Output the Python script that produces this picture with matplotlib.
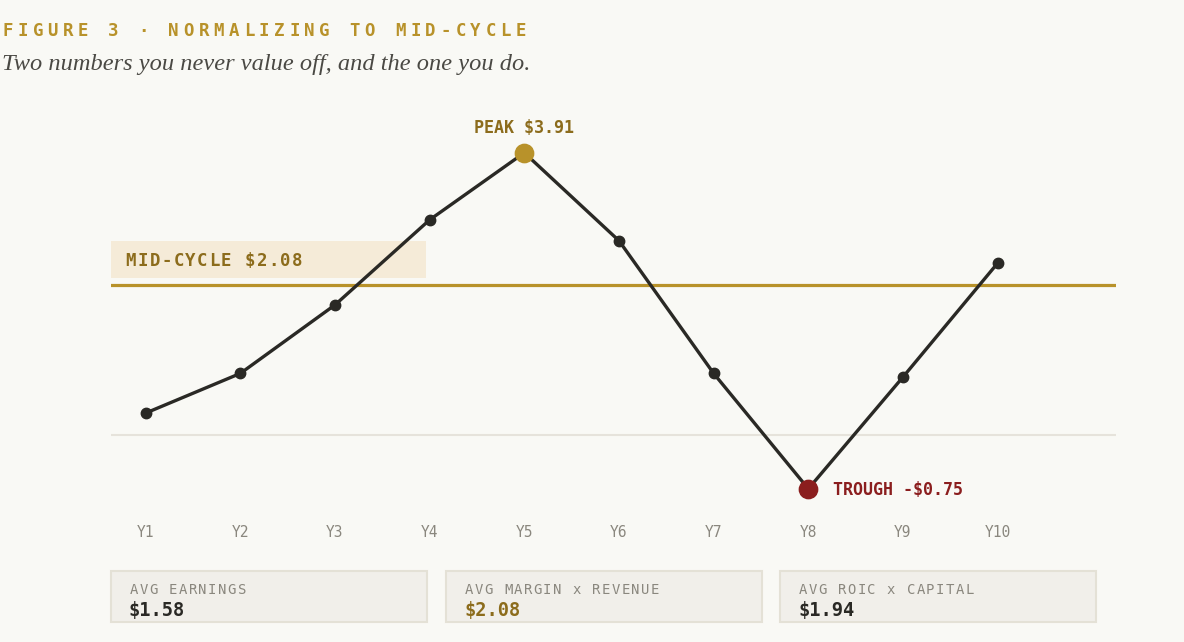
import numpy as np
import matplotlib
matplotlib.use('Agg')
import matplotlib.pyplot as plt
import matplotlib.transforms as mtransforms
from matplotlib.patches import Rectangle

# data
years = ['Y1', 'Y2', 'Y3', 'Y4', 'Y5', 'Y6', 'Y7', 'Y8', 'Y9', 'Y10']
eps = [0.30, 0.85, 1.80, 2.98, 3.91, 2.69, 0.85, -0.75, 0.80, 2.38]
mid_cycle = 2.08
card_labels = ['AVG EARNINGS', 'AVG MARGIN x REVENUE', 'AVG ROIC x CAPITAL']
card_values = [np.mean(eps), 2.08, 1.94]

BG = '#f9f9f5'
GOLD = '#b8922a'
GOLD_DK = '#8c6c1c'
INK = '#2a2925'
RED = '#8b1e1e'
GREY = '#8a877e'
MONO = 'DejaVu Sans Mono'

W, H = 1184, 642
fig = plt.figure(figsize=(W / 100, H / 100), dpi=100, facecolor=BG)


def fx(x):
    return x / W


def fy(y):
    return 1 - y / H


def spaced(x, y, s, step, size, color, weight='normal', transform=None):
    # mono text with css-like letter spacing, x is left edge of first cell (px)
    base = transform if transform is not None else fig.transFigure
    for i, ch in enumerate(s):
        if ch == ' ':
            continue
        tr = mtransforms.offset_copy(base, fig=fig, x=i * step + step / 2, y=0, units='dots')
        fig.text(x, y, ch, transform=tr, ha='center', va='baseline', fontsize=size,
                 color=color, fontweight=weight, family=MONO)


# axes placed in pixel terms
left, right, top, bottom = 111, 1116, 95, 510
ax = fig.add_axes([fx(left), fy(bottom), fx(right - left), (bottom - top) / H])
ax.set_facecolor(BG)
x = np.arange(len(years))
ax.set_xlim(-0.366, 10.25)
ax.set_ylim(-1.044, 4.711)

ax.axhline(0, color='#e6e3db', lw=1.5, zorder=1)
ax.axhline(mid_cycle, color=GOLD, lw=2.3, zorder=2)

# mid-cycle label box
blend = mtransforms.blended_transform_factory(ax.transAxes, ax.transData)
ax.add_patch(Rectangle((0, mid_cycle + 0.095), 0.3134, 0.515, transform=blend,
                       facecolor='#f5ebd8', edgecolor='none', zorder=3))

ax.plot(x, eps, color=INK, lw=2.4, marker='o', markersize=7.5, zorder=4,
        solid_joinstyle='miter')

ipk = int(np.argmax(eps))
itr = int(np.argmin(eps))
ax.plot(x[ipk], eps[ipk], 'o', color=GOLD, markersize=13.2, zorder=5)
ax.plot(x[itr], eps[itr], 'o', color=RED, markersize=13.2, zorder=5)

ax.annotate(f'PEAK ${eps[ipk]:.2f}', (x[ipk], eps[ipk]), xytext=(0, 14),
            textcoords='offset points', ha='center', va='baseline', fontsize=12,
            fontweight='bold', color=GOLD_DK, family=MONO, zorder=6)
ax.annotate(f'TROUGH -${abs(eps[itr]):.2f}', (x[itr], eps[itr]), xytext=(18, -4.8),
            textcoords='offset points', ha='left', va='baseline', fontsize=12,
            fontweight='bold', color=RED, family=MONO, zorder=6)

ax.set_xticks(x)
ax.set_xticklabels(years, family=MONO, fontsize=10.5, color=GREY)
ax.tick_params(axis='x', length=0, pad=10.5)
ax.set_yticks([])
for sp in ax.spines.values():
    sp.set_visible(False)

# mid-cycle label text (letter spaced)
lbl_tr = mtransforms.blended_transform_factory(ax.transAxes, ax.transData)
spaced(0.0139, 2.34, f'MID-CYCLE ${mid_cycle:.2f}', 11.9, 12.5, GOLD_DK, 'bold', lbl_tr)

# title + subtitle
spaced(0, fy(36.5), 'FIGURE 3 · NORMALIZING TO MID-CYCLE', 15.1, 12.5, GOLD, 'bold')
fig.text(fx(2), fy(70), 'Two numbers you never value off, and the one you do.',
         family='Liberation Serif', style='italic', fontsize=17.6, color='#4a4944',
         va='baseline', ha='left')

# cards along the bottom
card_x = [111, 446, 780]
for cx, lab, val, vcol in zip(card_x, card_labels, card_values, [INK, GOLD_DK, INK]):
    fig.patches.append(Rectangle((fx(cx), fy(622)), fx(316), 51 / H,
                                 transform=fig.transFigure, facecolor='#f1efea',
                                 edgecolor='#e4e1d6', lw=1.5))
    spaced(fx(cx + 18), fy(594), lab, 9.8, 10, GREY)
    fig.text(fx(cx + 18), fy(616), f'${val:.2f}', family=MONO, fontweight='bold',
             fontsize=13.5, color=vcol, va='baseline', ha='left')

fig.savefig('out.png', dpi=100, facecolor=BG)
